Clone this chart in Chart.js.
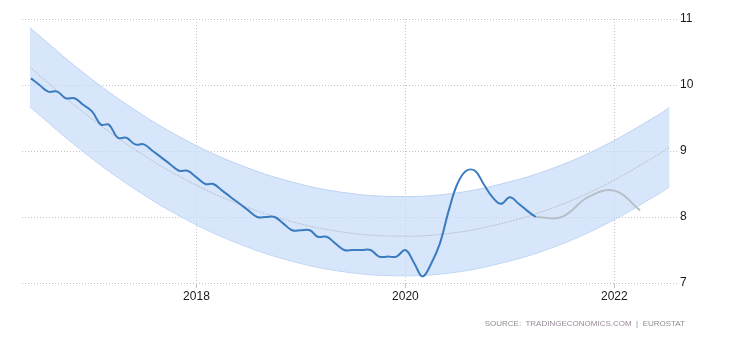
<!DOCTYPE html>
<html>
<head>
<meta charset="utf-8">
<script src="https://cdn.jsdelivr.net/npm/chart.js@4/dist/chart.umd.min.js"></script>
<style>
  body { margin: 0; background: #fff; }
  #wrap { position: relative; width: 730px; height: 340px; }
  #source {
    position: absolute; right: 45px; top: 319px;
    font: 8px 'Liberation Sans', Arial, sans-serif; color: #8c8c8c;
    white-space: pre;
  }
  #source .site { color: #9a8a9a; }
</style>
</head>
<body>
<div id="wrap">
  <canvas id="chart" width="730" height="340"></canvas>
  <div id="source">SOURCE:  <span class="site">TRADINGECONOMICS.COM</span>  |  EUROSTAT</div>
</div>
<script>
// ── DATA ──────────────────────────────────────────────────────────────────────
const histDates = [
  '2016-06','2016-07','2016-08','2016-09','2016-10','2016-11','2016-12',
  '2017-01','2017-02','2017-03','2017-04','2017-05','2017-06','2017-07','2017-08','2017-09','2017-10','2017-11','2017-12',
  '2018-01','2018-02','2018-03','2018-04','2018-05','2018-06','2018-07','2018-08','2018-09','2018-10','2018-11','2018-12',
  '2019-01','2019-02','2019-03','2019-04','2019-05','2019-06','2019-07','2019-08','2019-09','2019-10','2019-11','2019-12',
  '2020-01','2020-02','2020-03','2020-04','2020-05','2020-06','2020-07','2020-08','2020-09','2020-10','2020-11','2020-12',
  '2021-01','2021-02','2021-03','2021-04'
];
const histValues = [
  10.1, 10.0, 9.9, 9.9, 9.8, 9.8, 9.7,
  9.6, 9.4, 9.4, 9.2, 9.2, 9.1, 9.1, 9.0, 8.9, 8.8, 8.7, 8.7,
  8.6, 8.5, 8.5, 8.4, 8.3, 8.2, 8.1, 8.0, 8.0, 8.0, 7.9, 7.8,
  7.8, 7.8, 7.7, 7.7, 7.6, 7.5, 7.5, 7.5, 7.5, 7.4, 7.4, 7.4,
  7.5, 7.3, 7.1, 7.3, 7.6, 8.1, 8.5, 8.7, 8.7, 8.5, 8.3, 8.2,
  8.3, 8.2, 8.1, 8.0
];

const forecastDates  = ['2021-04', '2021-07', '2021-10', '2022-01', '2022-04'];
const forecastValues = [8.0, 8.0, 8.3, 8.4, 8.1];

const trendDates  = ['2016-05-28','2016-12','2017-06','2017-12','2018-06','2018-12','2019-06','2019-12',
                     '2020-06','2020-12','2021-06','2021-12','2022-06','2022-07-13'];
const trendValues = [10.27, 9.59, 9.02, 8.55, 8.19, 7.93, 7.77, 7.71, 7.75, 7.90, 8.14, 8.49, 8.94, 9.06];
const bandUpper   = [10.87, 10.19, 9.62, 9.15, 8.79, 8.53, 8.37, 8.31, 8.35, 8.50, 8.74, 9.09, 9.54, 9.66];
const bandLower   = [9.67, 8.99, 8.42, 7.95, 7.59, 7.33, 7.17, 7.11, 7.15, 7.30, 7.54, 7.89, 8.34, 8.46];

const xTicks = [2018, 2020, 2022];
const yTicks = [7, 8, 9, 10, 11];

// ── HELPERS ───────────────────────────────────────────────────────────────────
// 'YYYY-MM' or 'YYYY-MM-DD' -> decimal year
function toYear(s) {
  const [y, m, d] = s.split('-').map(Number);
  const start = Date.UTC(y, 0, 1), end = Date.UTC(y + 1, 0, 1);
  return y + (Date.UTC(y, m - 1, d || 1) - start) / (end - start);
}
const pts = (dates, vals) => dates.map((d, i) => ({ x: toYear(d), y: vals[i] }));

const FONT = { family: "'Liberation Sans', Arial, sans-serif", size: 12 };
const GRID = '#c4c4c4';

// ── CHART ─────────────────────────────────────────────────────────────────────
new Chart(document.getElementById('chart'), {
  type: 'line',
  data: {
    datasets: [
      { data: pts(trendDates, bandUpper), borderColor: '#bcd3f2', borderWidth: 1,
        backgroundColor: 'rgba(200,221,248,0.72)', fill: '+1', tension: 0.4, pointRadius: 0, order: 3 },
      { data: pts(trendDates, bandLower), borderColor: '#bcd3f2', borderWidth: 1,
        fill: false, tension: 0.4, pointRadius: 0, order: 3 },
      { data: pts(trendDates, trendValues), borderColor: 'rgba(160,160,170,0.55)', borderWidth: 1,
        borderDash: [2, 1], fill: false, tension: 0.4, pointRadius: 0, order: 2 },
      { data: pts(forecastDates, forecastValues), borderColor: '#b8bfc9', borderWidth: 2,
        fill: false, tension: 0.4, pointRadius: 0, order: 1 },
      { data: pts(histDates, histValues), borderColor: '#3b7cc0', borderWidth: 2,
        fill: false, tension: 0.4, pointRadius: 0, order: 0 }
    ]
  },
  options: {
    responsive: false,
    animation: false,
    layout: { padding: { left: 22, top: 19, right: 0, bottom: 0 } },
    plugins: { legend: { display: false }, tooltip: { enabled: false } },
    scales: {
      x: {
        type: 'linear',
        min: 2016.33, max: 2022.6,
        afterBuildTicks: s => { s.ticks = xTicks.map(v => ({ value: v })); },
        afterFit: s => { s.height = 57; },
        ticks: { font: FONT, color: '#1a1a1a', padding: 1, maxRotation: 0, callback: v => String(v) },
        grid: { color: GRID, tickLength: 5 },
        border: { display: false, dash: [1, 2] }
      },
      y: {
        position: 'right',
        min: 7, max: 11,
        afterBuildTicks: s => { s.ticks = yTicks.map(v => ({ value: v })); },
        afterFit: s => { s.width = 53; },
        ticks: { font: FONT, color: '#1a1a1a', padding: 3 },
        grid: { color: GRID, drawTicks: false },
        border: { display: false, dash: [1, 2] }
      }
    }
  }
});
</script>
</body>
</html>
